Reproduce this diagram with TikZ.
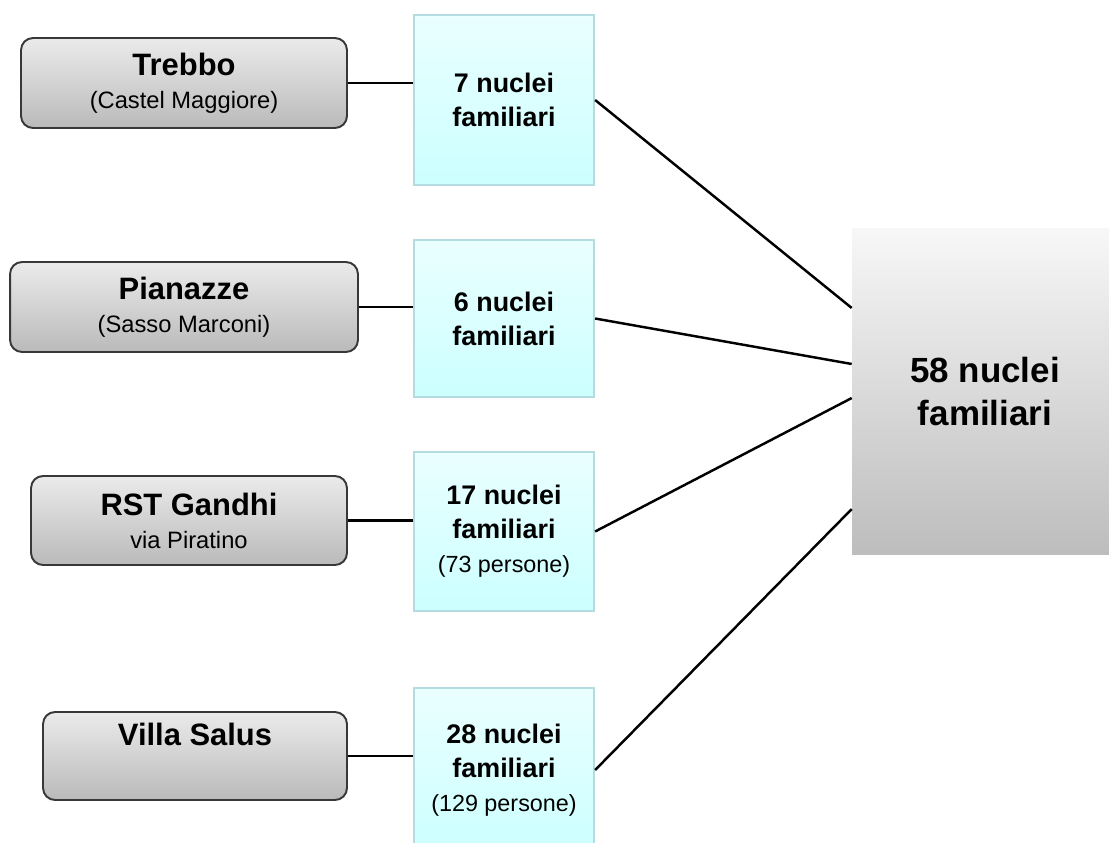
\documentclass[tikz,border=0pt]{standalone}
\usepackage{fontspec}
\setmainfont{Liberation Sans}
\usetikzlibrary{calc}
\definecolor{cyantop}{HTML}{EAFFFF}
\definecolor{cyanbot}{HTML}{CCFFFF}
\definecolor{cyanline}{HTML}{B4DCE0}
\newcommand\namefont{\fontsize{17.6}{19}\selectfont\bfseries}
\newcommand\smallfont{\fontsize{13.3}{18}\selectfont\mdseries}

\begin{document}
\begin{tikzpicture}[x=0.02cm,y=-0.02cm,
    place/.style={draw=black!78, line width=1.1pt, rounded corners=0.24cm, top color=black!8, bottom color=black!27,
      align=center, inner sep=0pt, font=\fontsize{13.5}{18.8}\selectfont},
    count/.style={draw=cyanline, line width=1.3pt, top color=cyantop, bottom color=cyanbot, minimum width=3.6cm,
      align=center, inner sep=0pt, font=\fontsize{15.3}{19.3}\selectfont\bfseries},
    link/.style={line width=1.4pt}]
      \useasboundingbox (0,0) rectangle (1109,842);

      \node[place, minimum width=6.52cm, minimum height=1.8cm] (trebbo) at (184,83) {{\namefont Trebbo}\\(Castel Maggiore)};
      \node[place, minimum width=6.96cm, minimum height=1.8cm] (pianazze) at (184,307) {{\namefont Pianazze}\\(Sasso Marconi)};
      \node[place, minimum width=6.32cm, minimum height=1.78cm] (gandhi) at (189,520.5) {{\namefont RST Gandhi}\\via Piratino};
      \node[place, minimum width=6.08cm, minimum height=1.76cm] (salus) at (195,756) {{\namefont Villa Salus}\\\strut};

      \node[count, minimum height=3.4cm] (n7) at (504,100) {7 nuclei\\familiari};
      \node[count, minimum height=3.14cm] (n6) at (504,318.5) {6 nuclei\\familiari};
      \node[count, minimum height=3.18cm] (n17) at (504,531.5) {17 nuclei\\familiari\\{\smallfont (73 persone)}};
      \node[count, minimum height=3.28cm] (n28) at (504,770) {28 nuclei\\familiari\\{\smallfont (129 persone)}};

      \node[top color=black!3, bottom color=black!26, minimum width=5.32cm, minimum height=6.54cm, inner sep=0pt,
        align=center, font=\fontsize{19.9}{24.5}\selectfont\bfseries] (total) at (985,391.5) {58 nuclei\\familiari};

      \foreach \a/\b in {trebbo/n7, pianazze/n6, gandhi/n17, salus/n28} \draw[link] (\a.east) -- (\a.east -| \b.west);
      \foreach \b/\f in {n7/0.245, n6/0.416, n17/0.52, n28/0.859} \draw[link] (\b.east) -- ($(total.north west)!\f!(total.south west)$);
    \end{tikzpicture}
\end{document}
